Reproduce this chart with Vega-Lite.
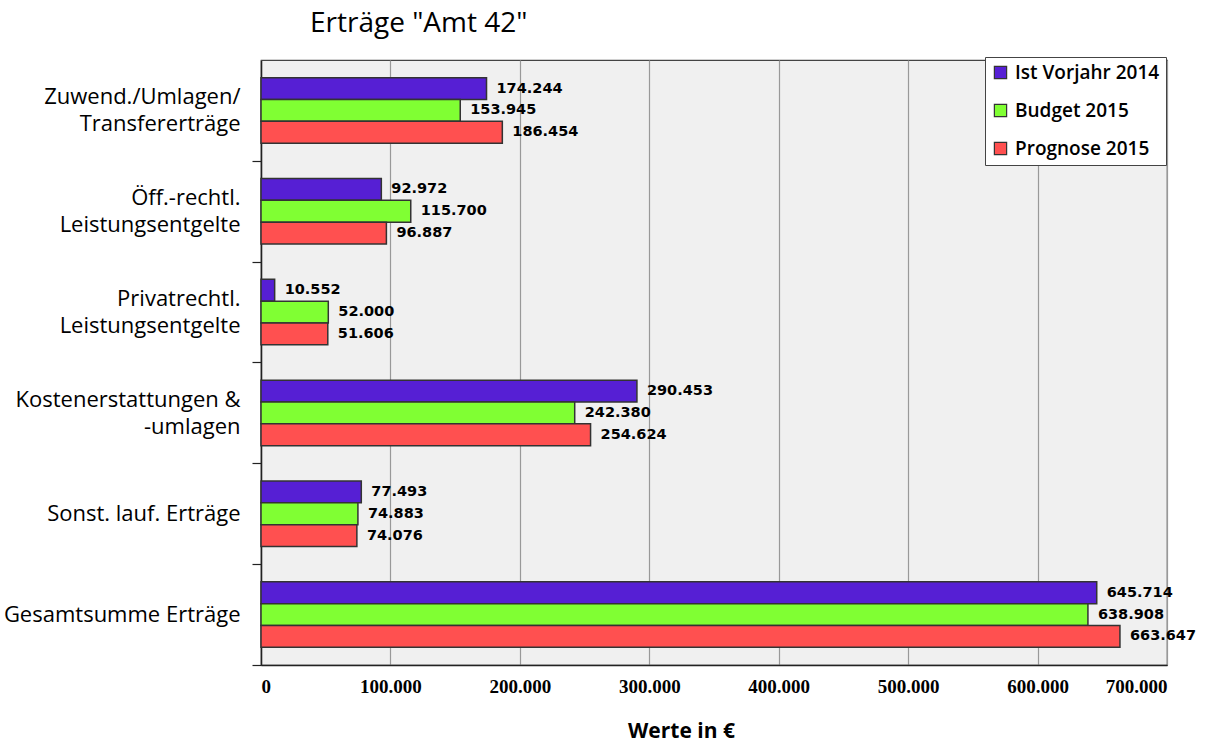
{
  "$schema": "https://vega.github.io/schema/vega-lite/v6.json",
  "autosize": {"type": "none"},
  "padding": {"left": 261, "top": 60, "right": 39, "bottom": 80},
  "width": 906,
  "height": 605,
  "background": "white",
  "title": {
    "text": "Erträge \"Amt 42\"",
    "anchor": "start",
    "frame": "group",
    "dx": 49,
    "offset": 19,
    "font": "Open Sans",
    "fontSize": 28,
    "fontWeight": "normal",
    "color": "#000000"
  },
  "data": {
    "values": [
      {"category": "Zuwend./Umlagen/|Transfererträge", "series": "Ist Vorjahr 2014", "value": 174244},
      {"category": "Zuwend./Umlagen/|Transfererträge", "series": "Budget 2015", "value": 153945},
      {"category": "Zuwend./Umlagen/|Transfererträge", "series": "Prognose 2015", "value": 186454},
      {"category": "Öff.-rechtl.|Leistungsentgelte", "series": "Ist Vorjahr 2014", "value": 92972},
      {"category": "Öff.-rechtl.|Leistungsentgelte", "series": "Budget 2015", "value": 115700},
      {"category": "Öff.-rechtl.|Leistungsentgelte", "series": "Prognose 2015", "value": 96887},
      {"category": "Privatrechtl.|Leistungsentgelte", "series": "Ist Vorjahr 2014", "value": 10552},
      {"category": "Privatrechtl.|Leistungsentgelte", "series": "Budget 2015", "value": 52000},
      {"category": "Privatrechtl.|Leistungsentgelte", "series": "Prognose 2015", "value": 51606},
      {"category": "Kostenerstattungen &|-umlagen", "series": "Ist Vorjahr 2014", "value": 290453},
      {"category": "Kostenerstattungen &|-umlagen", "series": "Budget 2015", "value": 242380},
      {"category": "Kostenerstattungen &|-umlagen", "series": "Prognose 2015", "value": 254624},
      {"category": "Sonst. lauf. Erträge", "series": "Ist Vorjahr 2014", "value": 77493},
      {"category": "Sonst. lauf. Erträge", "series": "Budget 2015", "value": 74883},
      {"category": "Sonst. lauf. Erträge", "series": "Prognose 2015", "value": 74076},
      {"category": "Gesamtsumme Erträge", "series": "Ist Vorjahr 2014", "value": 645714},
      {"category": "Gesamtsumme Erträge", "series": "Budget 2015", "value": 638908},
      {"category": "Gesamtsumme Erträge", "series": "Prognose 2015", "value": 663647}
    ]
  },
  "encoding": {
    "y": {
      "field": "category",
      "type": "nominal",
      "sort": null,
      "scale": {"paddingInner": 0.35, "paddingOuter": 0.175},
      "axis": {
        "title": null,
        "labelExpr": "split(datum.label, '|')",
        "labelFont": "Open Sans",
        "labelFontSize": 22,
        "labelFontWeight": 500,
        "labelColor": "#000000",
        "labelLineHeight": 27,
        "labelPadding": 12,
        "labelLimit": 260,
        "labelOffset": {"condition": {"test": "indexof(datum.value, '|') >= 0", "value": -63.9}, "value": -50.4},
        "ticks": true,
        "tickOffset": 50.4,
        "tickSize": 9,
        "tickColor": "#222222",
        "tickWidth": 1.2,
        "domainColor": "#222222",
        "domainWidth": 1.5,
        "grid": false
      }
    },
    "yOffset": {
      "field": "series",
      "type": "nominal",
      "sort": ["Ist Vorjahr 2014", "Budget 2015", "Prognose 2015"],
      "scale": {"paddingInner": 0, "paddingOuter": 0}
    },
    "x": {
      "field": "value",
      "type": "quantitative",
      "scale": {"domain": [0, 700000], "nice": false},
      "axis": {
        "values": [0, 100000, 200000, 300000, 400000, 500000, 600000, 700000],
        "format": ",d",
        "title": "Werte in €",
        "titleFont": "Open Sans",
        "titleFontSize": 21,
        "titleFontWeight": "bold",
        "titleColor": "#000000",
        "titleX": 420,
        "titleY": 66,
        "titleBaseline": "middle",
        "labelFont": "Liberation Serif",
        "labelFontSize": 19,
        "labelFontWeight": "bold",
        "labelColor": "#000000",
        "labelPadding": 12,
        "ticks": false,
        "domainColor": "#222222",
        "domainWidth": 1.5,
        "grid": true,
        "gridColor": "#999999",
        "gridWidth": 1.2
      }
    }
  },
  "layer": [
    {
      "mark": {"type": "bar", "stroke": "#333333", "strokeWidth": 1.5},
      "encoding": {
        "color": {
          "field": "series",
          "type": "nominal",
          "scale": {
            "domain": ["Ist Vorjahr 2014", "Budget 2015", "Prognose 2015"],
            "range": ["#561fd4", "#80ff33", "#ff5050"]
          },
          "legend": {
            "title": null,
            "orient": "none",
            "legendX": 724,
            "legendY": -3,
            "direction": "vertical",
            "fillColor": "#ffffff",
            "strokeColor": "#444444",
            "padding": 6,
            "symbolType": "square",
            "symbolSize": 150,
            "symbolStrokeColor": "#333333",
            "symbolStrokeWidth": 1.2,
            "symbolOpacity": 1,
            "labelFont": "Open Sans",
            "labelFontSize": 19,
            "labelFontWeight": 600,
            "labelColor": "#000000",
            "labelOffset": 5,
            "rowPadding": 18,
            "labelLimit": 300
          }
        }
      }
    },
    {
      "mark": {
        "type": "text",
        "align": "left",
        "baseline": "middle",
        "dx": 10,
        "font": "DejaVu Sans",
        "fontSize": 14.5,
        "fontWeight": "bold",
        "color": "#000000"
      },
      "encoding": {
        "text": {"field": "value", "type": "quantitative", "format": ",d"}
      }
    }
  ],
  "config": {
    "locale": {
      "number": {"decimal": ",", "thousands": ".", "grouping": [3], "currency": ["", " €"]}
    },
    "view": {"fill": "#f0f0f0", "stroke": "#444444", "strokeWidth": 1.2}
  }
}
